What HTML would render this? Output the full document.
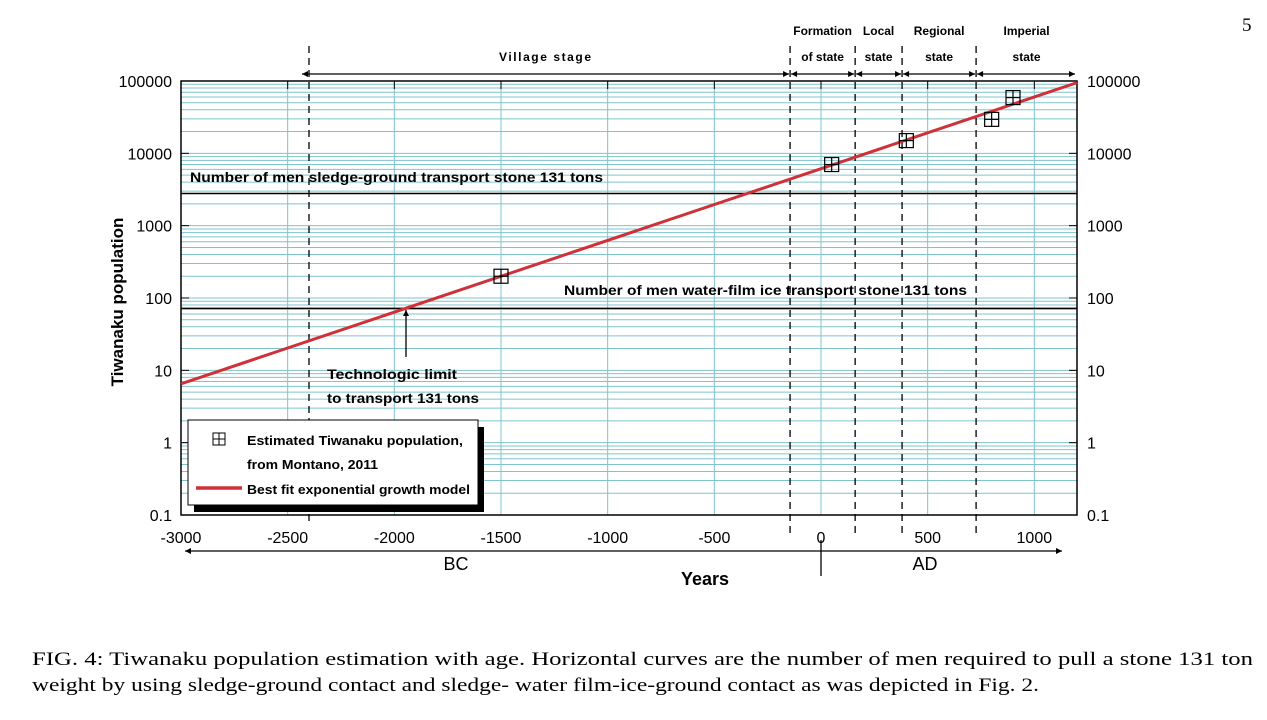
<!DOCTYPE html>
<html><head><meta charset="utf-8"><style>
body{margin:0;background:#fff;width:1267px;height:715px;overflow:hidden}
text{font-family:"Liberation Sans",Arial,sans-serif}
.cap{font-family:"Liberation Serif",serif;font-size:19px}
</style></head><body>
<svg id="chart" width="1267" height="715" xmlns="http://www.w3.org/2000/svg">
<defs>
<marker id="ah" viewBox="0 0 10 10" refX="10" refY="5" markerWidth="10" markerHeight="6" orient="auto-start-reverse" markerUnits="userSpaceOnUse"><path d="M0,0L10,5L0,10z" fill="#000"/></marker>
</defs>
<g id="grid"></g>
<g id="marks"></g>
<text x="1242" y="31" class="cap">5</text>
<text class="cap" x="32" y="665" textLength="1221" lengthAdjust="spacingAndGlyphs">FIG. 4: Tiwanaku population estimation with age. Horizontal curves are the number of men required to pull a stone 131 ton</text>
<text class="cap" x="32" y="691" textLength="1007" lengthAdjust="spacingAndGlyphs">weight by using sledge-ground contact and sledge- water film-ice-ground contact as was depicted in Fig. 2.</text>
</svg>
<script>
const xTicks=[-3000,-2500,-2000,-1500,-1000,-500,0,500,1000];
const yTicks=[0.1,1,10,100,1000,10000,100000];
const yTickLabels=["0.1","1","10","100","1000","10000","100000"];
const dataYears=[-1500,50,400,800,900];
const dataPop=[200,7000,15000,29500,59000];
const fitYears=[-3000,1200];
const fitPop=[6.5,95000];
const stageBounds=[-2400,-145,160,380,727,1200];
const stageLabels=[["Village      stage"],["Formation","of state"],["Local","state"],["Regional","state"],["Imperial","state"]];
const limitLabels=["Number of men  sledge-ground transport stone 131 tons","Number of men  water-film ice transport stone 131 tons"];
const limitValues=[2780,72];

const X0=181,X1=1077,Y0=515,Y1=81,XMIN=-3000,XMAX=1200,LMIN=-1,LMAX=5;
const sx=v=>X0+(v-XMIN)/(XMAX-XMIN)*(X1-X0);
const sy=v=>Y0-(Math.log10(v)-LMIN)/(LMAX-LMIN)*(Y0-Y1);
const NS="http://www.w3.org/2000/svg";
function mk(p,t,a,txt){const e=document.createElementNS(NS,t);for(const k in a)e.setAttribute(k,a[k]);if(txt!=null)e.textContent=txt;p.appendChild(e);return e;}
const g=document.getElementById('grid'),m=document.getElementById('marks');
for(let d=LMIN;d<LMAX;d++)for(let k=1;k<=10;k++){const v=k*Math.pow(10,d);if(k==1&&d>LMIN)continue;
 const l=mk(g,'line',{x1:X0,x2:X1,y1:sy(v),y2:sy(v),stroke:'#7fc4cc','stroke-width':1});
 }
xTicks.forEach(t=>{const l=mk(g,'line',{x1:sx(t),x2:sx(t),y1:Y1,y2:Y0,stroke:'#7fc4cc','stroke-width':1});
 
 mk(g,'line',{x1:sx(t),x2:sx(t),y1:Y1,y2:Y1+8,stroke:'#000'});
 const tx=mk(g,'text',{x:sx(t),y:Y0+28,'text-anchor':'middle','font-size':16},String(t));
 });
yTicks.forEach((t,i)=>{const y=sy(t);
 mk(g,'line',{x1:X0,x2:X0+8,y1:y,y2:y,stroke:'#000'});mk(g,'line',{x1:X1,x2:X1-8,y1:y,y2:y,stroke:'#000'});
 const a=mk(g,'text',{x:172,y:y+6,'text-anchor':'end','font-size':16},yTickLabels[i]);
 
 const b=mk(g,'text',{x:1087,y:y+6,'font-size':16},yTickLabels[i]);
 });
const fr=mk(g,'rect',{x:X0,y:Y1,width:X1-X0,height:Y0-Y1,fill:'none',stroke:'#000','stroke-width':1.5});

limitValues.forEach((v,i)=>{const l=mk(m,'line',{x1:X0,x2:X1,y1:sy(v),y2:sy(v),stroke:'#000','stroke-width':1.5});
 });
const t1=mk(m,'text',{x:190,y:182,'font-size':14,'font-weight':'bold',textLength:413,lengthAdjust:'spacingAndGlyphs','xml:space':'preserve'},limitLabels[0]);

const t2=mk(m,'text',{x:564,y:295,'font-size':14,'font-weight':'bold',textLength:403,lengthAdjust:'spacingAndGlyphs','xml:space':'preserve'},limitLabels[1]);

stageBounds.slice(0,5).forEach((b,i)=>{const l=mk(m,'line',{x1:sx(b),x2:sx(b),y1:46,y2:i==0?525:535,stroke:'#000','stroke-dasharray':'7,5','stroke-width':1.3});
 });
for(let i=0;i<5;i++){const a=sx(stageBounds[i])+(i==0?-7:1),b=sx(stageBounds[i+1])-(i==4?2:1);
 const l=mk(m,'line',{x1:a,x2:b,y1:74,y2:74,stroke:'#000','stroke-width':1.3,'marker-start':'url(#ah)','marker-end':'url(#ah)'});
 
 const cx=(sx(stageBounds[i])+sx(stageBounds[i+1]))/2;const lab=stageLabels[i];
 if(lab.length==1){const t=mk(m,'text',{x:499,y:61,'font-size':12,'font-weight':'bold','xml:space':'preserve',textLength:92,lengthAdjust:'spacing'},lab[0]);}
 else{const t=mk(m,'text',{x:cx,y:35,'text-anchor':'middle','font-size':12,'font-weight':'bold'},lab[0]);
  const u=mk(m,'text',{x:cx,y:61,'text-anchor':'middle','font-size':12,'font-weight':'bold'},lab[1]);}}
const fl=mk(m,'line',{x1:sx(fitYears[0]),y1:sy(fitPop[0]),x2:sx(fitYears[1]),y2:sy(fitPop[1]),stroke:'#d03038','stroke-width':3});

dataYears.forEach((yr,i)=>{const x=sx(yr),y=sy(dataPop[i]);const gg=mk(m,'g',{});
 
 mk(gg,'rect',{x:x-7,y:y-7,width:14,height:14,fill:'none',stroke:'#000','stroke-width':1.2});
 mk(gg,'line',{x1:x,x2:x,y1:y-7,y2:y+7,stroke:'#000','stroke-width':1.2});
 mk(gg,'line',{x1:x-7,x2:x+7,y1:y,y2:y,stroke:'#000','stroke-width':1.2});});
const ar=mk(m,'line',{x1:406,y1:357,x2:406,y2:310,stroke:'#000','stroke-width':1.3,'marker-end':'url(#ah)'});

[["Technologic  limit",379,130],["to transport 131 tons",403,152]].forEach(([s,y,w])=>{const t=mk(m,'text',{x:327,y:y,'font-size':14,'font-weight':'bold','xml:space':'preserve',textLength:w,lengthAdjust:'spacingAndGlyphs'},s);});
const lg=mk(m,'g',{});
mk(lg,'rect',{x:194,y:427,width:290,height:85,fill:'#000'});
mk(lg,'rect',{x:188,y:420,width:290,height:85,fill:'#fff',stroke:'#000','stroke-width':1});
const lx=219,ly=439;
mk(lg,'rect',{x:lx-6,y:ly-6,width:12,height:12,fill:'none',stroke:'#000'});
mk(lg,'line',{x1:lx,x2:lx,y1:ly-6,y2:ly+6,stroke:'#000'});mk(lg,'line',{x1:lx-6,x2:lx+6,y1:ly,y2:ly,stroke:'#000'});
mk(lg,'line',{x1:196,x2:242,y1:488,y2:488,stroke:'#d03038','stroke-width':3.5});
[["Estimated  Tiwanaku population,",445,216],["from Montano, 2011",469,131],["Best fit exponential growth model",494,223]].forEach(([s,y,w])=>{const t=mk(lg,'text',{x:247,y:y,'font-size':13,'font-weight':'bold','xml:space':'preserve',textLength:w,lengthAdjust:'spacingAndGlyphs'},s);});
const ba=mk(m,'line',{x1:185,x2:1062,y1:551,y2:551,stroke:'#000','stroke-width':1.3,'marker-start':'url(#ah)','marker-end':'url(#ah)'});

mk(m,'line',{x1:sx(0),x2:sx(0),y1:540,y2:576,stroke:'#000','stroke-width':1.3});
const bc=mk(m,'text',{x:456,y:570,'text-anchor':'middle','font-size':18},"BC");
const ad=mk(m,'text',{x:925,y:570,'text-anchor':'middle','font-size':18},"AD");
const xt=mk(m,'text',{x:705,y:585,'text-anchor':'middle','font-size':18,'font-weight':'bold'},"Years");
const yt=mk(m,'text',{x:0,y:0,'text-anchor':'middle','font-size':17,'font-weight':'bold',transform:'translate(123,302) rotate(-90)'},"Tiwanaku population");
</script>
</body></html>
